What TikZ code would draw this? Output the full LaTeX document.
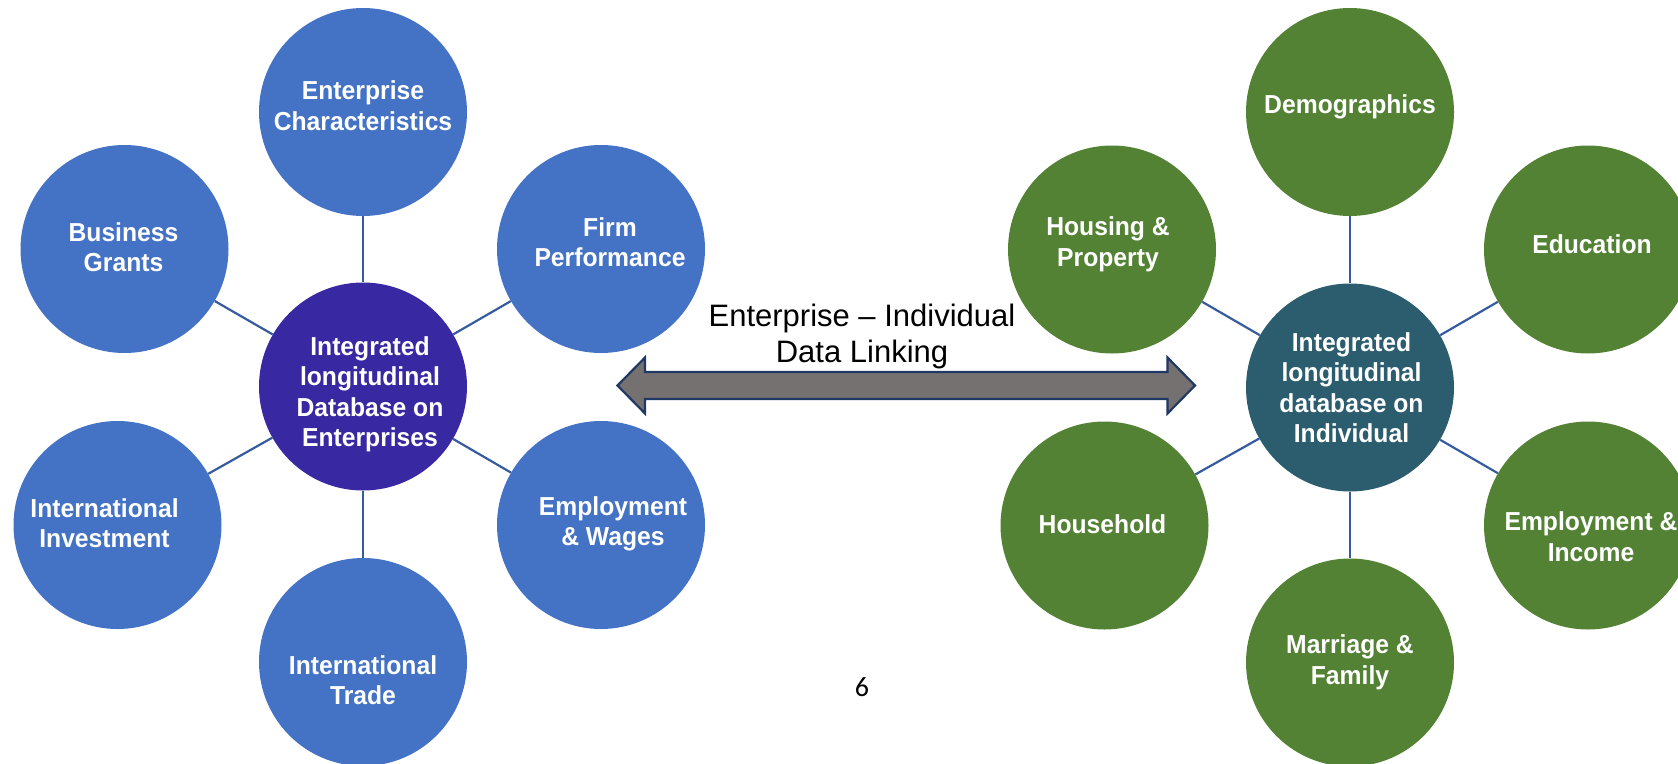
\documentclass[tikz,border=0pt]{standalone}
\usepackage{fontspec}
\usetikzlibrary{calc}
\newfontfamily\circfont[FakeStretch=0.95]{Liberation Sans}
\newfontfamily\linkfont[Ligatures=TeX]{Liberation Sans}
\newfontfamily\pagefont{Carlito}

\definecolor{entblue}{HTML}{4472C4}
\definecolor{enthub}{HTML}{3828A2}
\definecolor{indgreen}{HTML}{548235}
\definecolor{indhub}{HTML}{2B5D6E}
\definecolor{spoke}{HTML}{365B9E}
\definecolor{arrowfill}{HTML}{767171}
\definecolor{arrowedge}{HTML}{1F3864}

\tikzset{
  bubble/.style={circle, minimum size=208pt, inner sep=0pt, draw=none},
  entnode/.style={bubble, fill=entblue},
  entcore/.style={bubble, fill=enthub},
  indnode/.style={bubble, fill=indgreen},
  indcore/.style={bubble, fill=indhub},
  ctext/.style={text=white, align=center, inner sep=0pt,
    font=\circfont\bfseries\fontsize{26}{30.5}\selectfont},
  spokeline/.style={draw=spoke, line width=2.2pt},
  linktext/.style={align=center, inner sep=0pt,
    font=\linkfont\fontsize{31}{36}\selectfont},
  linkarrow/.style={fill=arrowfill, draw=arrowedge, line width=2.2pt, line join=miter}
}

\begin{document}
\begin{tikzpicture}[x=1pt, y=-1pt]
\path[use as bounding box] (0,0) rectangle (1678,763);
\clip (0,0) rectangle (1678,763);

% enterprise cluster
\node[entcore, label={[ctext, xshift=7pt, yshift=-8pt]center:Integrated\\longitudinal\\Database on\\Enterprises}] (ec) at (363,386.5) {};
\node[entnode, label={[ctext, yshift=6.5pt]center:Enterprise\\Characteristics}] (e1) at (363,112) {};
\node[entnode, label={[ctext, xshift=-1pt, yshift=2pt]center:Business\\Grants}] (e2) at (124.5,249) {};
\node[entnode, label={[ctext, xshift=9pt, yshift=7pt]center:Firm\\Performance}] (e3) at (601,249) {};
\node[entnode, label={[ctext, xshift=-13pt, yshift=2pt]center:International\\Investment}] (e4) at (117.5,525) {};
\node[entnode, label={[ctext, xshift=12pt, yshift=1pt]center:Employment\\\& Wages}] (e5) at (601,525) {};
\node[entnode, label={[ctext, yshift=-18pt]center:International\\Trade}] (e6) at (363,662) {};

\foreach \n in {e1,e2,e3,e4,e5,e6}
  \draw[spokeline] (ec) -- (\n);

% individual cluster
\node[indcore, label={[ctext, xshift=1.5pt]center:Integrated\\longitudinal\\database on\\Individual}] (ic) at (1350,387.5) {};
\node[indnode, label={[ctext, yshift=5pt]center:Demographics}] (i1) at (1350,112) {};
\node[indnode, label={[ctext, xshift=-4pt, yshift=5pt]center:Housing \&\\Property}] (i2) at (1112,249.5) {};
\node[indnode, label={[ctext, xshift=4pt, yshift=5pt]center:Education}] (i3) at (1588,249.5) {};
\node[indnode, label={[ctext, xshift=-2pt, yshift=1pt]center:Household}] (i4) at (1104.5,525.5) {};
\node[indnode, label={[ctext, xshift=3pt, yshift=-11pt]center:Employment \&\\Income}] (i5) at (1588,525.5) {};
\node[indnode, label={[ctext]center:Marriage \&\\Family}] (i6) at (1350,662.5) {};

\foreach \n in {i1,i2,i3,i4,i5,i6}
  \draw[spokeline] (ic) -- (\n);

% two-headed block arrow linking the clusters
\coordinate (ltip) at (617.5,385.5);
\coordinate (rtip) at (1195,385.5);
\draw[linkarrow]
  (ltip) -- ($(ltip)+(27.5,-28)$) -- ($(ltip)+(27.5,-13.5)$)
  -- ($(rtip)+(-27.5,-13.5)$) -- ($(rtip)+(-27.5,-28)$) -- (rtip)
  -- ($(rtip)+(-27.5,28)$) -- ($(rtip)+(-27.5,13.5)$)
  -- ($(ltip)+(27.5,13.5)$) -- ($(ltip)+(27.5,28)$) -- cycle;

\node[linktext] (link) at (862,336.8) {Enterprise \textendash{} Individual\\Data Linking};

\node[inner sep=0pt, font=\pagefont\fontsize{28}{32}\selectfont] (pg) at (862,687.5) {6};
\end{tikzpicture}
\end{document}
